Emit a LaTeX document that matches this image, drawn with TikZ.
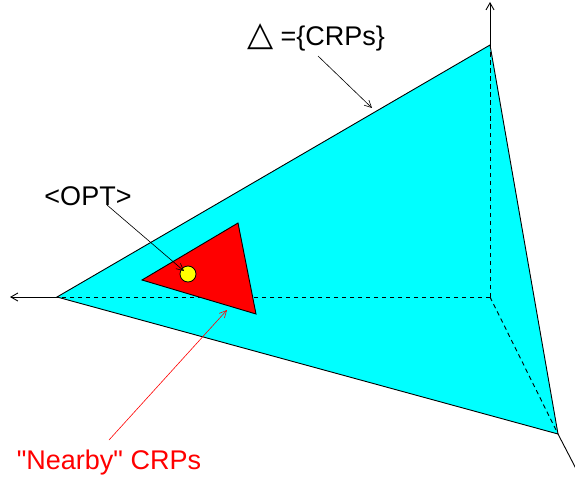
\documentclass[tikz,border=0pt]{standalone}
\usepackage{fontspec}
\setmainfont{Liberation Sans}
\newfontfamily\symfont{DejaVu Sans}
\usetikzlibrary{arrows.meta}
\definecolor{aqua}{RGB}{0,255,255}
\definecolor{pure red}{RGB}{255,0,0}
\definecolor{pure yellow}{RGB}{255,255,0}
\begin{document}
\begin{tikzpicture}[x=1pt, y=-1pt, font=\fontsize{27}{32}\selectfont,
    face/.style ={draw, line width=0.9pt, fill=aqua},
    axis/.style ={draw, line width=0.9pt, -{Straight Barb[length=7pt,width=8pt]}},
    hidden/.style={draw, line width=0.9pt, dash pattern=on 4.5pt off 3.5pt},
    lead/.style ={draw, line width=0.6pt, -{Straight Barb[length=7pt,width=7pt]}},
    lbl/.style  ={anchor=base, inner sep=0pt},
  ]
  \useasboundingbox (0,0) rectangle (575,484);
  \clip (0,0) rectangle (575,484);
  % corners of the simplex
  \coordinate (l) at (57,297);
  \coordinate (t) at (490,45);
  \coordinate (b) at (558,434);
  \coordinate (o) at (490,297);
  \path[face] (l) -- (t) -- (b) -- cycle;
  \foreach \c in {l,t,b}
    \draw[hidden] (o) -- (\c);
  % axes
  \coordinate (lx) at (10,297);
  \coordinate (tx) at (490,2);
  \coordinate (bx) at (586,488);
  \draw[axis] (l) -- (lx);
  \draw[axis] (t) -- (tx);
  \draw[axis] (b) -- (bx);
  % nearby region and optimum
  \coordinate (r1) at (142,280);
  \coordinate (r2) at (238,223);
  \coordinate (r3) at (256,314);
  \filldraw[fill=pure red, line width=0.9pt] (r1) -- (r2) -- (r3) -- cycle;
  \node[circle, draw, fill=pure yellow, line width=0.8pt, minimum size=16pt, inner sep=0pt] (dot) at (188,274) {};
  % labels
  \node[lbl] (crps) at (316,46) {{\symfont\fontsize{34}{34}\selectfont △} =\{CRPs\}};
  \node[lbl] (opt) at (88,205) {<OPT>};
  \node[lbl, text=pure red] (nearby) at (109,469) {\textquotedbl Nearby\textquotedbl\ CRPs};
  \coordinate (crpsend) at (372,108);
  \coordinate (optend) at (184,271);
  \coordinate (nearend) at (227,310);
  \draw[lead] ([xshift=2pt,yshift=-10pt]crps.base) -- (crpsend);
  \draw[lead] ([xshift=19pt]opt.base) -- (optend);
  \draw[lead, pure red] ([yshift=29pt]nearby.base) -- (nearend);
\end{tikzpicture}
\end{document}
